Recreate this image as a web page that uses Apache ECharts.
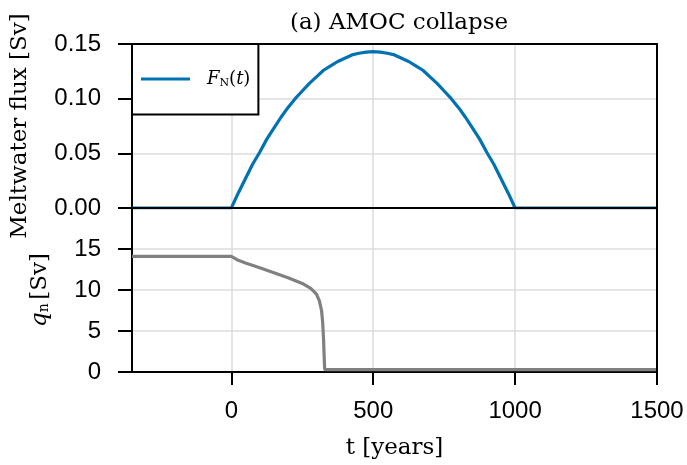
<!DOCTYPE html>
<html>
<head>
<meta charset="utf-8">
<script src="https://cdn.jsdelivr.net/npm/echarts@6/dist/echarts.min.js"></script>
<style>
  html, body { margin: 0; padding: 0; background: #fff; }
  #chart { width: 687px; height: 465px; }
</style>
</head>
<body>
<div id="chart"></div>
<script>
// meltwater forcing F_N(t) [Sv]
const fluxT = [-350, 0, 25, 50, 75, 100, 125, 150, 175, 200, 225, 250, 275, 300, 325, 350, 375, 400, 425, 450, 475, 500,
  525, 550, 575, 600, 625, 650, 675, 700, 725, 750, 775, 800, 825, 850, 875, 900, 925, 950, 975, 1000, 1500];
const fluxV = [0, 0, 0.014, 0.027, 0.040, 0.051, 0.063, 0.073, 0.083, 0.092, 0.100, 0.107, 0.114, 0.120, 0.126, 0.130, 0.134, 0.137, 0.140, 0.1415, 0.1425, 0.143,
  0.1425, 0.1415, 0.140, 0.137, 0.134, 0.130, 0.126, 0.120, 0.114, 0.107, 0.100, 0.092, 0.083, 0.073, 0.063, 0.051, 0.040, 0.027, 0.014, 0, 0];

// AMOC strength q_n [Sv]
const qnT = [-350, 0, 20, 50, 100, 150, 200, 250, 280, 300, 310, 318, 322, 325, 327, 329, 1500];
const qnV = [14.1, 14.1, 13.7, 13.3, 12.7, 12.1, 11.5, 10.8, 10.2, 9.5, 8.7, 7.5, 6.0, 4.0, 2.0, 0.3, 0.3];

const xTicks = [0, 500, 1000, 1500];
const qnTicks = [0, 5, 10, 15];

const pair = (t, v) => t.map((x, i) => [x, v[i]]);

const chart = echarts.init(document.getElementById("chart"));

const tickFont = { fontFamily: "Liberation Sans, Arial, sans-serif", fontSize: 24, color: "#000" };
const serif = "DejaVu Serif, Liberation Serif, serif";
const gridLine = { show: true, lineStyle: { color: "#dddddd", width: 1.5 } };
const frameLine = { show: true, onZero: false, lineStyle: { color: "#000", width: 2 } };

// frame-only axes for the top and right edges of each panel
const frameAxis = (gridIndex, position, extra) => Object.assign({
  type: "value", gridIndex, position, z: 5,
  axisLine: frameLine,
  axisTick: { show: false },
  axisLabel: { show: false },
  splitLine: { show: false }
}, extra);

chart.setOption({
  animation: false,
  title: {
    text: "(a) AMOC collapse",
    left: 394,
    textAlign: "center",
    top: 7,
    textStyle: { fontFamily: serif, fontSize: 23, fontWeight: "normal", color: "#000" }
  },
  legend: {
    left: 132,
    top: 44,
    orient: "vertical",
    backgroundColor: "#fff",
    borderColor: "#000",
    borderWidth: 2,
    borderRadius: 0,
    padding: [26, 8, 26, 9],
    itemWidth: 49,
    itemHeight: 3,
    data: [{ name: "F_N(t)", icon: "rect" }],
    formatter: () => "{g|}{i|F}{s|N}{r|(}{i|t}{r|)}",
    textStyle: {
      rich: {
        g: { width: 12 },
        i: { fontFamily: serif, fontStyle: "italic", fontSize: 18, color: "#000" },
        s: { fontFamily: serif, fontSize: 11, color: "#000", padding: [8, 0, 0, 0] },
        r: { fontFamily: serif, fontSize: 18, color: "#000" }
      }
    }
  },
  grid: [
    { left: 132, right: 30, top: 44, height: 164 },
    { left: 132, right: 30, top: 208, height: 164 }
  ],
  xAxis: [
    {
      type: "value", gridIndex: 0, min: -350, max: 1500, position: "bottom",
      axisLine: frameLine,
      axisTick: { show: false, customValues: xTicks },
      axisLabel: { show: false, customValues: xTicks },
      splitLine: gridLine
    },
    {
      type: "value", gridIndex: 1, min: -350, max: 1500, position: "bottom",
      name: "t [years]",
      nameLocation: "middle",
      nameGap: 65,
      nameTextStyle: { fontFamily: serif, fontSize: 23, color: "#000" },
      axisLine: frameLine,
      axisTick: { show: true, inside: false, length: 13, customValues: xTicks, lineStyle: { color: "#000", width: 2 } },
      axisLabel: Object.assign({ margin: 27, customValues: xTicks, formatter: v => String(v) }, tickFont),
      splitLine: gridLine
    },
    frameAxis(0, "top", { min: -350, max: 1500 }),
    frameAxis(1, "top", { min: -350, max: 1500 })
  ],
  yAxis: [
    {
      type: "value", gridIndex: 0, min: 0, max: 0.15, interval: 0.05, position: "left",
      name: "Meltwater flux [Sv]",
      nameLocation: "middle",
      nameGap: 100,
      nameTextStyle: { fontFamily: serif, fontSize: 23, color: "#000" },
      axisLine: frameLine,
      axisTick: { show: true, inside: false, length: 14, lineStyle: { color: "#000", width: 2 } },
      axisLabel: Object.assign({ margin: 31, formatter: v => v.toFixed(2) }, tickFont),
      splitLine: gridLine
    },
    {
      type: "value", gridIndex: 1, min: 0, max: 20, interval: 5, position: "left",
      name: "{i|q}{s|n} {r|[Sv]}",
      nameLocation: "middle",
      nameGap: 80,
      nameTextStyle: {
        color: "#000",
        rich: {
          i: { fontFamily: serif, fontStyle: "italic", fontSize: 23, color: "#000" },
          s: { fontFamily: serif, fontSize: 14, color: "#000", padding: [8, 0, 0, 0] },
          r: { fontFamily: serif, fontSize: 23, color: "#000" }
        }
      },
      axisLine: frameLine,
      axisTick: { show: true, inside: false, length: 14, customValues: qnTicks, lineStyle: { color: "#000", width: 2 } },
      axisLabel: Object.assign({ margin: 31, customValues: qnTicks }, tickFont),
      splitLine: gridLine
    },
    frameAxis(0, "right", { min: 0, max: 0.15 }),
    frameAxis(1, "right", { min: 0, max: 20 })
  ],
  series: [
    {
      name: "F_N(t)",
      type: "line",
      xAxisIndex: 0, yAxisIndex: 0,
      symbol: "none",
      data: pair(fluxT, fluxV),
      lineStyle: { color: "#0072b2", width: 3.2 },
      itemStyle: { color: "#0072b2" },
      z: 3
    },
    {
      name: "q_n",
      type: "line",
      xAxisIndex: 1, yAxisIndex: 1,
      symbol: "none",
      data: pair(qnT, qnV),
      lineStyle: { color: "#808080", width: 3.2 },
      itemStyle: { color: "#808080" },
      z: 3
    }
  ]
});
</script>
</body>
</html>
